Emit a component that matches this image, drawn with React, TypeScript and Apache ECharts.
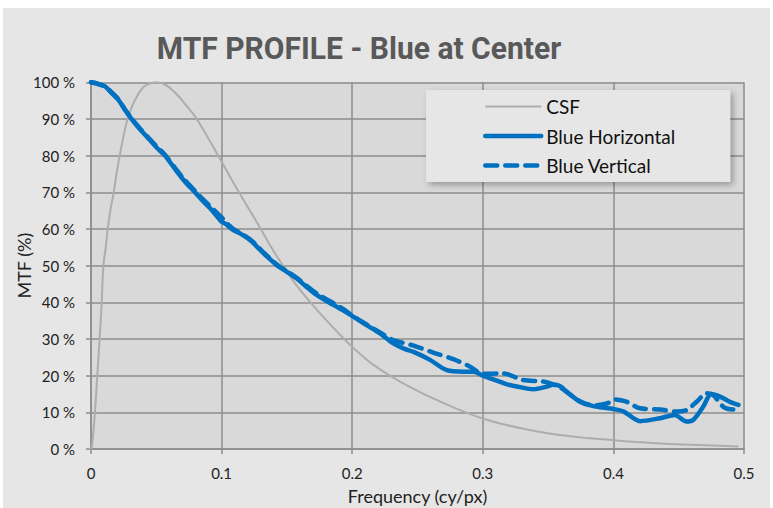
import React, { useEffect, useRef } from "react";
import * as echarts from "echarts";

const titleText = "MTF PROFILE - Blue at Center";
const seriesNames = ["CSF", "Blue Horizontal", "Blue Vertical"];
const xTickValues = [0, 0.1, 0.2, 0.3, 0.4, 0.5];

const csfFreq = [0, 0.0008, 0.003, 0.0048, 0.0066, 0.0082, 0.0095, 0.0113, 0.0128, 0.015, 0.0174, 0.0195, 0.022, 0.025, 0.028, 0.0315, 0.035, 0.0385, 0.042, 0.046, 0.0503, 0.054, 0.058, 0.062, 0.066, 0.07, 0.074, 0.0775, 0.081, 0.089, 0.0974, 0.1034, 0.11, 0.12, 0.13, 0.138, 0.147, 0.157, 0.168, 0.18, 0.19, 0.1996, 0.21, 0.221, 0.236, 0.252, 0.267, 0.2826, 0.3, 0.314, 0.3285, 0.343, 0.359, 0.38, 0.4, 0.418, 0.436, 0.455, 0.475, 0.4957];
const csfMtf = [0, 1, 10, 20, 30, 40, 50, 55, 60, 65.5, 70, 75, 80, 85.5, 90, 93.5, 96, 98, 99.2, 99.8, 100, 99.8, 99.1, 98, 96.6, 95, 93.2, 91.7, 90, 85.2, 80, 76.2, 72, 66, 60, 55, 50, 44.8, 40, 35.2, 31.4, 28, 24.7, 21.8, 18.5, 15.5, 13, 10.6, 8.3, 6.9, 5.7, 4.7, 3.8, 3, 2.4, 1.9, 1.5, 1.2, 0.95, 0.7];

const horizFreq = [0, 0.005, 0.0107, 0.016, 0.021, 0.026, 0.031, 0.037, 0.044, 0.05, 0.0567, 0.064, 0.072, 0.0796, 0.086, 0.0924, 0.1, 0.1026, 0.109, 0.115, 0.1217, 0.127, 0.132, 0.137, 0.142, 0.15, 0.1575, 0.165, 0.1728, 0.1855, 0.193, 0.2008, 0.21, 0.2213, 0.2315, 0.24, 0.247, 0.2596, 0.2724, 0.285, 0.293, 0.3004, 0.308, 0.318, 0.328, 0.3387, 0.349, 0.3535, 0.359, 0.364, 0.3744, 0.3846, 0.392, 0.4, 0.408, 0.4204, 0.4357, 0.447, 0.456, 0.461, 0.4687, 0.475, 0.4816, 0.489, 0.4957];
const horizMtf = [100, 99.6, 98.9, 97, 95.2, 92.5, 90, 87.4, 84.7, 82.3, 80, 76.5, 72.9, 70, 67.5, 65.2, 62, 61.5, 59.7, 58.6, 57, 55.2, 53.4, 51.8, 50.2, 48.3, 46.5, 44.2, 42, 39.3, 37.8, 36.1, 34, 31.5, 28.8, 27.3, 26.5, 24.3, 21.5, 21.1, 21.1, 19.9, 19, 17.7, 16.9, 16.3, 17, 17.5, 17.2, 15.7, 12.9, 11.7, 11.3, 10.9, 10.2, 7.6, 8.4, 9.3, 7.5, 7.9, 11.5, 15, 14.3, 12.9, 12];

const vertFreq = [0, 0.005, 0.0107, 0.016, 0.021, 0.026, 0.031, 0.037, 0.044, 0.05, 0.0567, 0.064, 0.072, 0.0796, 0.086, 0.0924, 0.1, 0.1026, 0.109, 0.115, 0.1217, 0.127, 0.132, 0.137, 0.142, 0.15, 0.1575, 0.165, 0.1728, 0.1855, 0.193, 0.2008, 0.21, 0.2213, 0.2315, 0.247, 0.262, 0.2774, 0.29, 0.3, 0.3157, 0.331, 0.3464, 0.354, 0.36, 0.3744, 0.385, 0.395, 0.401, 0.41, 0.4204, 0.4357, 0.4485, 0.456, 0.4638, 0.4714, 0.4765, 0.4842, 0.492, 0.4957];
const vertMtf = [100, 99.6, 98.8, 97.2, 95.4, 92.6, 90.2, 87.6, 84.9, 82.6, 80.2, 76.8, 73.3, 70.4, 68, 65.8, 63.2, 62, 60, 58.8, 57.2, 55.5, 53.6, 52, 50.4, 48.5, 46.7, 44.5, 42.4, 39.8, 38.2, 36.2, 34.2, 31.8, 29.7, 28.2, 26.3, 24.5, 22.5, 20.5, 20.6, 18.8, 18.4, 17.6, 16.6, 13, 11.9, 12.4, 13.5, 12.9, 11.1, 10.8, 10.2, 10.6, 12.9, 15.2, 14.7, 11.5, 10.8, 11.5];

const pairs = (xs: number[], ys: number[]) => xs.map((x, i) => [x, ys[i]]);

export default function App() {
  const ref = useRef<HTMLDivElement>(null);
  useEffect(() => {
    if (!ref.current) return;
    const chart = echarts.init(ref.current, undefined, { renderer: "svg" });
    const gridColor = "#8c8c8c";
    const blue = "#0070c0";
    const csfColor = "#adadad";
    const axisFont = { fontFamily: "Lato", fontSize: 15, color: "#222" };
    const hiddenSymbol = { color: "transparent", borderColor: "transparent", borderWidth: 0, opacity: 0 };
    chart.setOption({
      animation: false,
      backgroundColor: "transparent",
      grid: {
        left: 88,
        top: 74.3,
        width: 653,
        height: 366.7,
        show: true,
        backgroundColor: "#d9d9d9",
        borderWidth: 0,
        containLabel: false,
        outerBoundsMode: "none",
      },
      graphic: [
        {
          type: "text",
          x: 356,
          y: 40,
          scaleX: 0.97,
          style: {
            text: titleText,
            fontFamily: "Roboto",
            fontWeight: "bold",
            fontSize: 31,
            fill: "#595959",
            align: "center",
            verticalAlign: "middle",
          },
        },
      ],
      legend: {
        orient: "vertical",
        left: 423,
        top: 82,
        padding: [6, 55, 6, 57],
        itemWidth: 56,
        itemHeight: 14,
        itemGap: 8.5,
        backgroundColor: "#e6e6e6",
        shadowBlur: 6,
        shadowOffsetX: 3,
        shadowOffsetY: 3,
        shadowColor: "rgba(0,0,0,0.3)",
        textStyle: { fontFamily: "Lato", fontSize: 19, color: "#111", lineHeight: 21 },
        itemStyle: hiddenSymbol,
        data: [
          { name: seriesNames[0], itemStyle: hiddenSymbol, lineStyle: { color: csfColor, width: 2 } },
          { name: seriesNames[1], itemStyle: hiddenSymbol, lineStyle: { color: blue, width: 4.5, cap: "round" } },
          { name: seriesNames[2], itemStyle: hiddenSymbol, lineStyle: { color: blue, width: 4.5, type: [12, 8], cap: "round" } },
        ],
      },
      xAxis: {
        type: "value",
        min: 0,
        max: 0.5,
        interval: 0.1,
        axisLine: { show: true, lineStyle: { color: gridColor, width: 1.5 } },
        axisTick: { show: true, length: 5, lineStyle: { color: gridColor, width: 1.5 } },
        splitLine: { show: true, lineStyle: { color: gridColor, width: 1.5 } },
        axisLabel: {
          ...axisFont,
          margin: 16,
          formatter: (v: number) => {
            const t = xTickValues.find((x) => Math.abs(x - v) < 1e-9);
            return t === undefined ? "" : String(t);
          },
        },
        name: "Frequency (cy/px)",
        nameLocation: "middle",
        nameGap: 38,
        nameMoveOverlap: false,
        nameTextStyle: { fontFamily: "Lato", fontSize: 18, color: "#222" },
      },
      yAxis: {
        type: "value",
        min: 0,
        max: 100,
        interval: 10,
        axisLine: { show: true, lineStyle: { color: gridColor, width: 1.5 } },
        axisTick: { show: true, length: 5, lineStyle: { color: gridColor, width: 1.5 } },
        splitLine: { show: true, lineStyle: { color: gridColor, width: 1.5 } },
        axisLabel: { ...axisFont, margin: 16, formatter: "{value} %" },
        name: "MTF (%)",
        nameLocation: "middle",
        nameRotate: 90,
        nameGap: 58,
        nameMoveOverlap: false,
        nameTextStyle: { fontFamily: "Lato", fontSize: 18, color: "#222" },
      },
      series: [
        {
          name: seriesNames[0],
          type: "line",
          data: pairs(csfFreq, csfMtf),
          symbol: "none",
          smooth: 0.4,
          lineStyle: { color: csfColor, width: 2 },
          itemStyle: { color: csfColor },
        },
        {
          name: seriesNames[1],
          type: "line",
          data: pairs(horizFreq, horizMtf),
          symbol: "none",
          smooth: 0.3,
          lineStyle: { color: blue, width: 4.5, cap: "round", join: "round" },
          itemStyle: { color: blue },
        },
        {
          name: seriesNames[2],
          type: "line",
          data: pairs(vertFreq, vertMtf),
          symbol: "none",
          smooth: 0.3,
          lineStyle: { color: blue, width: 4.5, type: [12, 8], cap: "round", join: "round" },
          itemStyle: { color: blue },
        },
      ],
    });
    return () => chart.dispose();
  }, []);
  return (
    <div
      ref={ref}
      style={{ position: "absolute", left: 3, top: 8, width: 767, height: 500, background: "#e6e6e6" }}
    />
  );
}
